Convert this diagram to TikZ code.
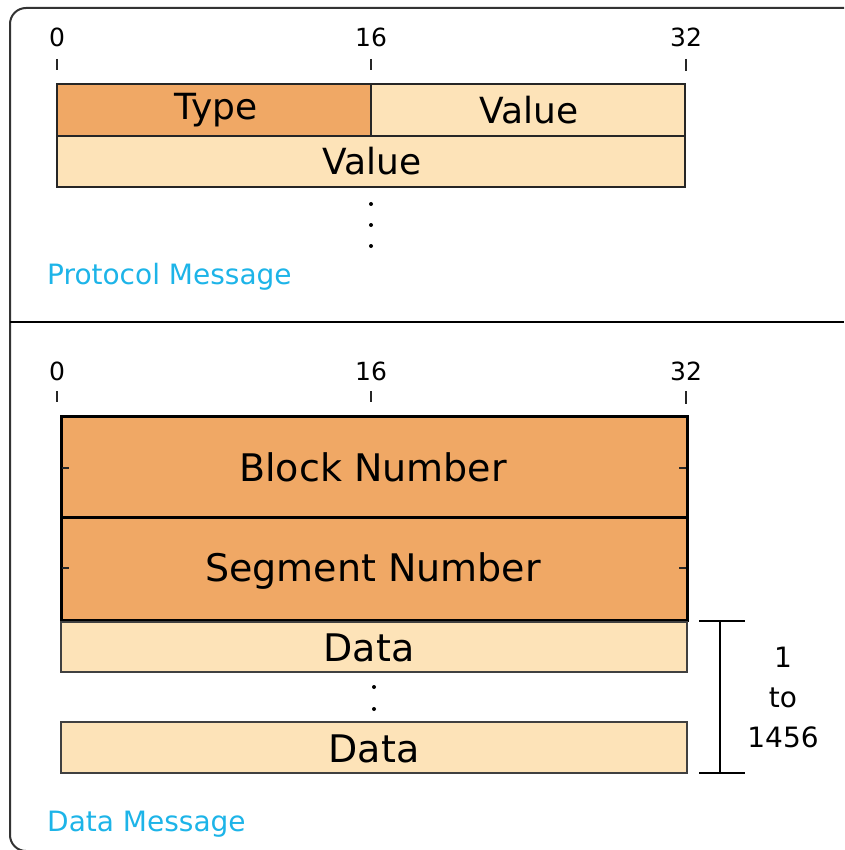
\documentclass[tikz,border=0pt]{standalone}
\usepackage{fontspec}
\setmainfont{DejaVu Sans}
\definecolor{darkor}{HTML}{F0A865}
\definecolor{lightor}{HTML}{FDE3B8}
\definecolor{capcol}{HTML}{1DB4E8}
\definecolor{framecol}{HTML}{333333}
\begin{document}
\begin{tikzpicture}[x=1pt,y=-1pt,
  fbox/.style={draw=black!85, line width=2pt, inner sep=0pt, outer sep=0pt},
  heavybox/.style={draw=black, line width=3pt, inner sep=0pt, outer sep=0pt, fill=darkor},
  databox/.style={draw=black!75, line width=2pt, inner sep=0pt, outer sep=0pt, fill=lightor},
  boxtext/.style={anchor=base, inner sep=0pt, font=\fontsize{36}{40}\selectfont},
  bigtext/.style={anchor=base, inner sep=0pt, font=\fontsize{38}{42}\selectfont},
  ticktext/.style={anchor=base, inner sep=0pt, font=\fontsize{25}{28}\selectfont},
  captext/.style={anchor=base west, inner sep=0pt, text=capcol, font=\fontsize{28}{32}\selectfont},
  sidetext/.style={anchor=base, inner sep=0pt, font=\fontsize{28}{32}\selectfont},
  tick/.style={line width=1.3pt, black!85},
  dotmark/.style={fill=black, draw=none}
]
\useasboundingbox (0,0) rectangle (844,850);
\begin{scope}
\clip (0,0) rectangle (844,850);
% outer frame
\draw[framecol, line width=2pt, rounded corners=16] (10,8) rectangle (900,851);
\draw[black, line width=1.5pt] (10,322) -- (844,322);

% ---------- Protocol message ----------
\node[ticktext] (p0) at (57,47) {0};
\node[ticktext] (p16) at (371,47) {16};
\node[ticktext] (p32) at (686,47) {32};
\draw[tick] (57,59) -- (57,70);
\draw[tick] (371,59) -- (371,70);
\draw[tick] (686,59) -- (686,71);

\node[fbox, fill=darkor, minimum width=314pt, minimum height=52pt] (type) at (214,110) {};
\node[fbox, fill=lightor, minimum width=314pt, minimum height=52pt] (val1) at (528,110) {};
\node[fbox, fill=lightor, minimum width=628pt, minimum height=51pt] (val2) at (371,161.5) {};
\node[boxtext] (typet) at (216,120) {Type};
\node[boxtext] (val1t) at (529,124) {Value};
\node[boxtext] (val2t) at (372,175) {Value};

\fill[dotmark] (371,204) circle (2);
\fill[dotmark] (371,225) circle (2);
\fill[dotmark] (371,246) circle (2);

\node[captext] (pm) at (47,284) {Protocol Message};

% ---------- Data message ----------
\node[ticktext] (d0) at (57,380) {0};
\node[ticktext] (d16) at (371,380) {16};
\node[ticktext] (d32) at (686,380) {32};
\draw[tick] (57,391) -- (57,402);
\draw[tick] (371,391) -- (371,402);
\draw[tick] (686,391) -- (686,404);

\node[heavybox, minimum width=626pt, minimum height=101pt] (blk) at (374,466.5) {};
\node[heavybox, minimum width=626pt, minimum height=103pt] (seg) at (374,568.5) {};
\draw[tick] (62,468) -- (69,468);
\draw[tick] (679,468) -- (686,468);
\draw[tick] (62,568) -- (69,568);
\draw[tick] (679,568) -- (686,568);
\node[bigtext] (blkt) at (373,481) {Block Number};
\node[bigtext] (segt) at (373,581) {Segment Number};

\node[databox, minimum width=626pt, minimum height=50pt] (dat1) at (374,646.5) {};
\node[databox, minimum width=626pt, minimum height=51pt] (dat2) at (374,747.5) {};
\node[bigtext] (dat1t) at (369,661) {Data};
\node[bigtext] (dat2t) at (374,762) {Data};

\fill[dotmark] (374,687) circle (2);
\fill[dotmark] (374,709) circle (2);

% bracket
\coordinate (bt) at (720,621);
\coordinate (bb) at (720,773);
\draw[black, line width=1.2pt] (bt) -- (bb);
\draw[black, line width=1.5pt] ([xshift=-21pt]bt) -- ([xshift=25pt]bt);
\draw[black, line width=1.5pt] ([xshift=-21pt]bb) -- ([xshift=25pt]bb);
\node[sidetext] (one) at (783,667) {1};
\node[sidetext] (to) at (783,707) {to};
\node[sidetext] (n1456) at (783,747) {1456};

\node[captext] (dm) at (47,831) {Data Message};
\end{scope}
\end{tikzpicture}
\end{document}
